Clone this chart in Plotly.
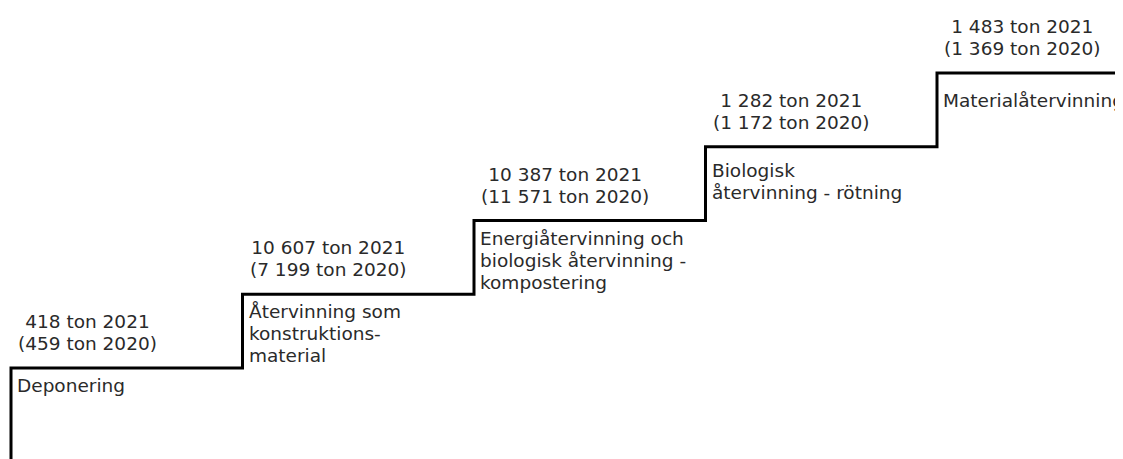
import plotly.graph_objects as go

# Data: steps of the waste hierarchy (lowest to highest)
categories = [
    ["Deponering"],
    ["Återvinning som", "konstruktions-", "material"],
    ["Energiåtervinning och", "biologisk återvinning -", "kompostering"],
    ["Biologisk", "återvinning - rötning"],
    ["Materialåtervinning"],
]
tons_2021 = ["418", "10 607", "10 387", "1 282", "1 483"]
tons_2020 = ["459", "7 199", "11 571", "1 172", "1 369"]

# styling: extra downward nudge (px) of each step's name label
label_nudge_px = [0, 0, 0, 6, 10]

W, H = 1123, 459
n = len(categories)
step_px_x = 231.5
step_px_y = 73.75
x0_px = 3      # page has an 8px body margin
y0_px = 360

x_range = [-x0_px / step_px_x, (W - x0_px) / step_px_x]
y_range = [-(H - y0_px) / step_px_y, y0_px / step_px_y]

# staircase path
xs = [0]
ys = [y_range[0] - 0.2]
for i in range(n):
    xs.append(i)
    ys.append(i)
xs.append(x_range[1] + 0.1)
ys.append(n - 1)

fig = go.Figure()
fig.add_trace(go.Scatter(
    x=xs, y=ys, mode="lines",
    line=dict(color="black", width=3, shape="hv"),
    hoverinfo="skip", showlegend=False,
))

TXT = "<span style='font-size:18.5px'>{}</span>"
font = dict(family="DejaVu Sans, sans-serif", size=17, color="#2a2a2a")
for i in range(n):
    val_lines = [f"{tons_2021[i]} ton 2021", f"({tons_2020[i]} ton 2020)"]
    fig.add_annotation(
        x=i, y=i, xref="x", yref="y",
        text="<br>".join(TXT.format(t) for t in val_lines),
        showarrow=False, xanchor="left", yanchor="bottom",
        align="center", xshift=5, yshift=12, font=font,
    )
    fig.add_annotation(
        x=i, y=i, xref="x", yref="y",
        text="<br>".join(TXT.format(t) for t in categories[i]),
        showarrow=False, xanchor="left", yanchor="top",
        align="left", xshift=4, yshift=-5 - label_nudge_px[i], font=font,
    )

fig.update_layout(
    width=W, height=H,
    margin=dict(l=0, r=0, t=0, b=0),
    paper_bgcolor="white", plot_bgcolor="white",
    xaxis=dict(range=x_range, visible=False, fixedrange=True),
    yaxis=dict(range=y_range, visible=False, fixedrange=True),
)
fig.write_html("out.html")
